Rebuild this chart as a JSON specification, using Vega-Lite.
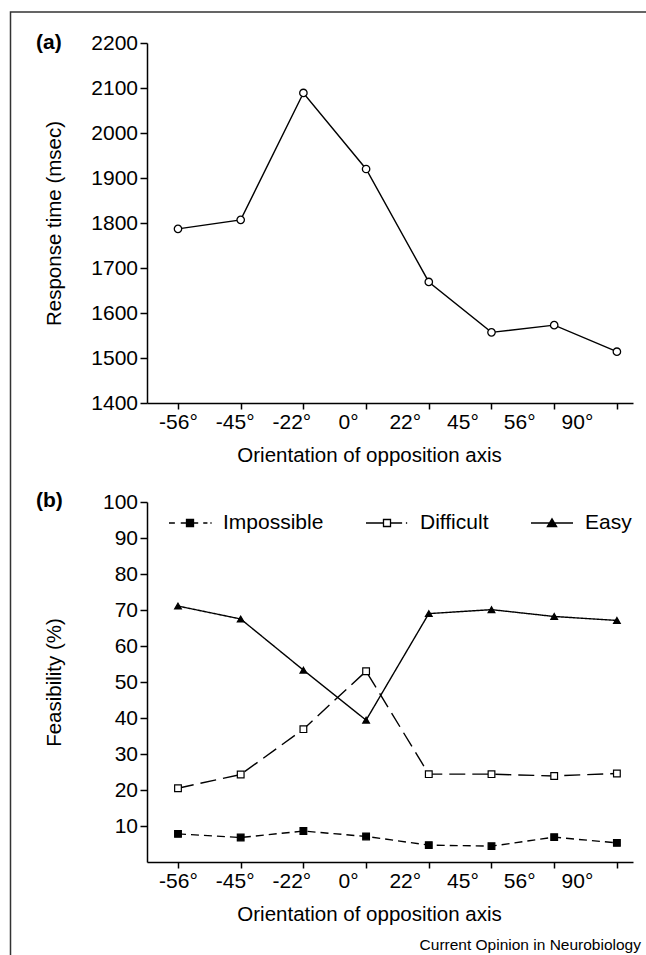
{
  "$schema": "https://vega.github.io/schema/vega-lite/v6.json",
  "padding": {"left": 9, "top": 11, "right": 0, "bottom": 0},
  "autosize": {"type": "pad"},
  "background": "white",
  "bounds": "flush",
  "spacing": 99,
  "config": {
    "font": "Liberation Sans",
    "view": {"stroke": null},
    "axis": {
      "grid": false, "domainColor": "black", "domainWidth": 1.5, "tickColor": "black", "tickWidth": 1.5,
      "labelColor": "black", "titleColor": "black", "labelFontSize": 21, "titleFontSize": 20.5,
      "titleFontWeight": "normal", "labelFont": "Liberation Sans", "titleFont": "Liberation Sans",
      "labelOverlap": false, "labelFlush": false
    },
    "axisY": {"labelOverlap": false},
    "title": {"color": "black", "font": "Liberation Sans"},
    "legend": {"strokeWidth": 1.5, "labelFont": "Liberation Sans", "labelColor": "black"}
  },
  "datasets": {
    "rt": [
      {"orientation": "-56°", "rt": 1787},
      {"orientation": "-45°", "rt": 1807},
      {"orientation": "-22°", "rt": 2089},
      {"orientation": "0°", "rt": 1920},
      {"orientation": "22°", "rt": 1669},
      {"orientation": "45°", "rt": 1557},
      {"orientation": "56°", "rt": 1573},
      {"orientation": "90°", "rt": 1514}
    ],
    "feas": [
      {"orientation": "-56°", "series": "Impossible", "pct": 7.8},
      {"orientation": "-45°", "series": "Impossible", "pct": 6.8},
      {"orientation": "-22°", "series": "Impossible", "pct": 8.6},
      {"orientation": "0°", "series": "Impossible", "pct": 7.1},
      {"orientation": "22°", "series": "Impossible", "pct": 4.7},
      {"orientation": "45°", "series": "Impossible", "pct": 4.4},
      {"orientation": "56°", "series": "Impossible", "pct": 6.9},
      {"orientation": "90°", "series": "Impossible", "pct": 5.3},
      {"orientation": "-56°", "series": "Difficult", "pct": 20.5},
      {"orientation": "-45°", "series": "Difficult", "pct": 24.3},
      {"orientation": "-22°", "series": "Difficult", "pct": 36.9},
      {"orientation": "0°", "series": "Difficult", "pct": 53.0},
      {"orientation": "22°", "series": "Difficult", "pct": 24.4},
      {"orientation": "45°", "series": "Difficult", "pct": 24.4},
      {"orientation": "56°", "series": "Difficult", "pct": 23.9},
      {"orientation": "90°", "series": "Difficult", "pct": 24.6},
      {"orientation": "-56°", "series": "Easy", "pct": 71.1},
      {"orientation": "-45°", "series": "Easy", "pct": 67.5},
      {"orientation": "-22°", "series": "Easy", "pct": 53.3},
      {"orientation": "0°", "series": "Easy", "pct": 39.4},
      {"orientation": "22°", "series": "Easy", "pct": 69.0},
      {"orientation": "45°", "series": "Easy", "pct": 70.1},
      {"orientation": "56°", "series": "Easy", "pct": 68.2},
      {"orientation": "90°", "series": "Easy", "pct": 67.1}
    ]
  },
  "vconcat": [
    {
      "width": 486, "height": 360,
      "title": {"text": "(a)", "anchor": "start", "frame": "group", "fontSize": 21, "fontWeight": "bold", "baseline": "middle", "dx": -111, "offset": -32},
      "data": {"name": "rt"},
      "layer": [
        {
          "mark": {"type": "line", "color": "black", "strokeWidth": 1.4},
          "encoding": {
            "x": {"field": "orientation", "type": "ordinal",
              "scale": {"type": "point", "domain": ["-56°", "-45°", "-22°", "0°", "22°", "45°", "56°", "90°"], "padding": 0.3756, "align": 0.658},
              "axis": {"title": "Orientation of opposition axis", "labelAngle": 0, "tickSize": 6, "labelPadding": 13, "labelBaseline": "middle", "labelOverlap": false,
                "labelOffset": {"condition": [
                  {"test": "datum.value === '-45°'", "value": -6},
                  {"test": "datum.value === '-22°'", "value": -12},
                  {"test": "datum.value === '0°'", "value": -18},
                  {"test": "datum.value === '22°'", "value": -24},
                  {"test": "datum.value === '45°'", "value": -29},
                  {"test": "datum.value === '56°'", "value": -35},
                  {"test": "datum.value === '90°'", "value": -40}], "value": 0},
                "titleX": 222, "titleY": 52, "titleBaseline": "middle"}},
            "y": {"field": "rt", "type": "quantitative",
              "scale": {"domain": [1400, 2200], "nice": false, "zero": false},
              "axis": {"title": "Response time (msec)", "values": [1400, 1500, 1600, 1700, 1800, 1900, 2000, 2100, 2200], "format": "d", "tickSize": 7, "labelPadding": 2.5, "labelOverlap": false, "titleX": -93, "titleBaseline": "middle"}},
            "order": {"value": null}
          }
        },
        {
          "mark": {"type": "point", "filled": true, "fill": "white", "stroke": "black", "strokeWidth": 1.3, "size": 55, "opacity": 1},
          "encoding": {
            "x": {"field": "orientation", "type": "ordinal"},
            "y": {"field": "rt", "type": "quantitative",
              "axis": {"title": "Response time (msec)", "values": [1400, 1500, 1600, 1700, 1800, 1900, 2000, 2100, 2200], "format": "d", "tickSize": 7, "labelPadding": 2.5, "labelOverlap": false, "titleX": -93, "titleBaseline": "middle"}}
          }
        },
        {
          "transform": [{"filter": "false"}],
          "mark": {"type": "point", "opacity": 0},
          "encoding": {
            "shape": {"field": "orientation", "type": "nominal", "scale": {"domain": ["frame"], "range": ["circle"]},
              "legend": {"orient": "none", "legendX": -136.5, "legendY": -31, "title": null, "padding": 480, "strokeColor": "#333333", "symbolSize": 0, "symbolOpacity": 0, "labelExpr": "''"}}
          }
        }
      ]
    },
    {
      "width": 486, "height": 360,
      "title": {"text": "(b)", "anchor": "start", "frame": "group", "fontSize": 21, "fontWeight": "bold", "baseline": "middle", "dx": -111, "offset": -31},
      "data": {"name": "feas"},
      "layer": [
        {
          "mark": {"type": "line", "color": "black", "strokeWidth": 1.4},
          "encoding": {
            "x": {"field": "orientation", "type": "ordinal",
              "scale": {"type": "point", "domain": ["-56°", "-45°", "-22°", "0°", "22°", "45°", "56°", "90°"], "padding": 0.3756, "align": 0.658},
              "axis": {"title": "Orientation of opposition axis", "labelAngle": 0, "tickSize": 6, "labelPadding": 13, "labelBaseline": "middle", "labelOverlap": false,
                "labelOffset": {"condition": [
                  {"test": "datum.value === '-45°'", "value": -6},
                  {"test": "datum.value === '-22°'", "value": -12},
                  {"test": "datum.value === '0°'", "value": -18},
                  {"test": "datum.value === '22°'", "value": -24},
                  {"test": "datum.value === '45°'", "value": -29},
                  {"test": "datum.value === '56°'", "value": -35},
                  {"test": "datum.value === '90°'", "value": -40}], "value": 0},
                "titleX": 222, "titleY": 52, "titleBaseline": "middle"}},
            "y": {"field": "pct", "type": "quantitative",
              "scale": {"domain": [0, 100], "nice": false},
              "axis": {"title": "Feasibility (%)", "values": [10, 20, 30, 40, 50, 60, 70, 80, 90, 100], "format": "d", "tickSize": 7, "labelPadding": 2.5, "labelOverlap": false, "titleX": -93, "titleBaseline": "middle"}},
            "detail": {"field": "series", "type": "nominal"},
            "strokeDash": {"field": "series", "type": "nominal",
              "scale": {"domain": ["Impossible", "Difficult", "Easy"], "range": [[8, 5], [16, 7], [1, 0]]}, "legend": null},
            "order": {"value": null}
          }
        },
        {
          "mark": {"type": "point", "filled": true, "stroke": "black", "strokeWidth": 1.2, "opacity": 1},
          "encoding": {
            "x": {"field": "orientation", "type": "ordinal"},
            "y": {"field": "pct", "type": "quantitative",
              "axis": {"title": "Feasibility (%)", "values": [10, 20, 30, 40, 50, 60, 70, 80, 90, 100], "format": "d", "tickSize": 7, "labelPadding": 2.5, "labelOverlap": false, "titleX": -93, "titleBaseline": "middle"}},
            "shape": {"field": "series", "type": "nominal", "scale": {"domain": ["Impossible", "Difficult", "Easy"], "range": ["square", "square", "triangle-up"]}, "legend": null},
            "fill": {"field": "series", "type": "nominal", "scale": {"domain": ["Impossible", "Difficult", "Easy"], "range": ["black", "white", "black"]}, "legend": null},
            "size": {"field": "series", "type": "nominal", "scale": {"domain": ["Impossible", "Difficult", "Easy"], "range": [45, 45, 75]}, "legend": null}
          }
        },
        {
          "transform": [{"filter": "false"}],
          "mark": {"type": "point", "filled": true, "color": "black", "stroke": "black", "opacity": 1},
          "encoding": {
            "shape": {"field": "series", "type": "nominal",
              "scale": {"domain": ["Impossible", "Difficult", "Easy"],
                "range": [
                  "M-1,0H-0.72M-0.44,0H-0.17M0.17,0H0.39M0.63,0H0.83M0.97,0H1.03M-0.167,-0.167H0.167V0.167H-0.167Z",
                  "M-1,0H-0.167M0.167,0H0.72M0.9,0H0.96M-0.167,-0.167H0.167V0.167H-0.167ZM-0.167,-0.167V0.167H0.167V-0.167Z",
                  "M-1,0H1M-0.22,0.17L0,-0.2L0.22,0.17Z"
                ]},
              "legend": {"orient": "none", "legendX": 21, "legendY": -1, "direction": "horizontal", "columns": 3, "title": null,
                "symbolSize": 1764, "symbolStrokeWidth": 1.3, "symbolOpacity": 1, "labelFontSize": 21, "labelOffset": 11,
                "columnPadding": 39, "padding": 0, "labelColor": "black"}}
          }
        }
      ],
      "resolve": {"scale": {"shape": "independent"}}
    },
    {
      "width": 486, "height": 1,
      "title": {"text": "Current Opinion in Neurobiology", "anchor": "end", "frame": "group", "fontSize": 15.5, "fontWeight": "normal", "baseline": "middle", "dx": 8, "offset": -2},
      "data": {"values": [{}]},
      "mark": {"type": "point", "opacity": 0}
    }
  ]
}
